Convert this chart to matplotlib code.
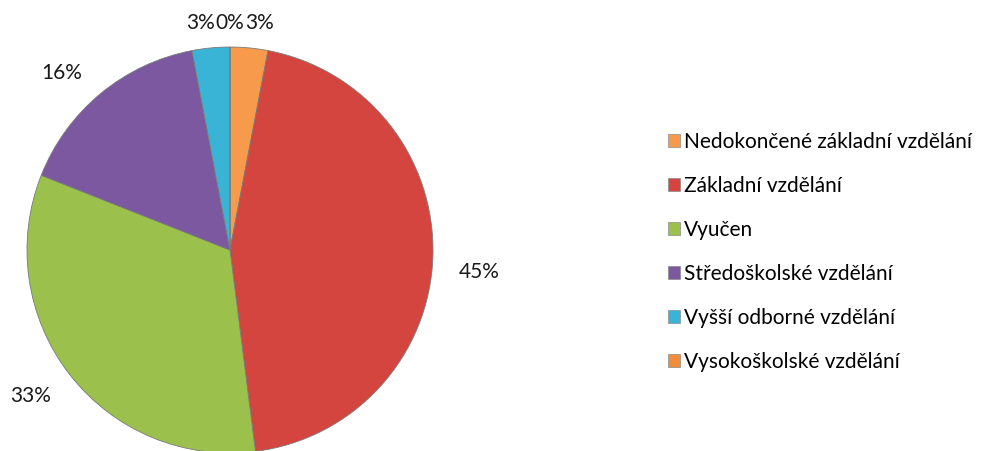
import matplotlib.pyplot as plt
from matplotlib.patches import Patch

plt.rcParams['font.family'] = ['Lato', 'DejaVu Sans']

categories = ['Nedokončené základní vzdělání', 'Základní vzdělání', 'Vyučen',
              'Středoškolské vzdělání', 'Vyšší odborné vzdělání', 'Vysokoškolské vzdělání']
shares = [3, 45, 33, 16, 3, 0]
colors = ['#F79A4B', '#D4453F', '#9CC04C', '#7B58A0', '#3AB4D6', '#F08C3A']

fig = plt.figure(figsize=(9.89, 4.51), dpi=100)
# pie centre at (230, 250) px from top-left, radius ~203 px
r = 203
ax = fig.add_axes([(230 - r) / 989, (201 - r) / 451, 2 * r / 989, 2 * r / 451])

wedges, texts, autotexts = ax.pie(
    shares, colors=colors, startangle=90, counterclock=False,
    autopct=lambda p: f'{p:.0f}%', pctdistance=1.18,
    wedgeprops=dict(edgecolor='#7a7a7a', linewidth=0.6),
    textprops=dict(fontsize=15, color='#1a1a1a'))
ax.set_xlim(-1, 1)
ax.set_ylim(-1, 1)
ax.set_aspect('equal')
ax.axis('off')

# Excel stacks the three small labels into one line at the top
top = [autotexts[4], autotexts[5], autotexts[0]]
for t, dx in zip(top, [-0.145, 0.0, 0.145]):
    t.set_position((dx, 1.12))
    t.set_ha('center')
autotexts[1].set_position((1.23, -0.11))
autotexts[2].set_position((-0.98, -0.72))
autotexts[3].set_position((-0.83, 0.87))

handles = [Patch(facecolor=c, edgecolor='#8a8a8a', linewidth=0.5) for c in colors]
fig.legend(handles, categories, loc='center left', bbox_to_anchor=(0.667, 0.441),
           frameon=False, fontsize=15, handlelength=0.6, handleheight=0.6,
           handletextpad=0.15, labelspacing=1.15, borderaxespad=0)

fig.savefig('out.png', dpi=100)
